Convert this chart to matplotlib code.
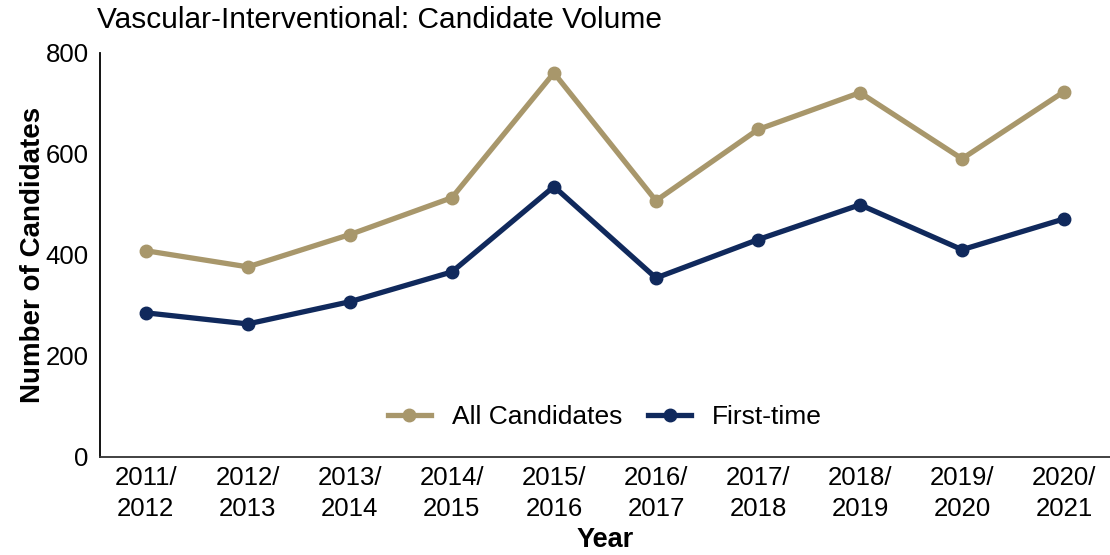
import matplotlib
matplotlib.use("Agg")
import matplotlib.pyplot as plt

plt.rcParams['font.family'] = ['Liberation Sans', 'DejaVu Sans']

years = ["2011/\n2012", "2012/\n2013", "2013/\n2014", "2014/\n2015", "2015/\n2016",
         "2016/\n2017", "2017/\n2018", "2018/\n2019", "2019/\n2020", "2020/\n2021"]
all_candidates = [408, 376, 440, 513, 760, 507, 648, 721, 590, 723]
first_time = [285, 263, 307, 366, 535, 354, 430, 499, 410, 471]

fig = plt.figure(figsize=(11.1, 5.55), dpi=100)
ax = fig.add_axes([0.090, 0.177, 0.910, 0.728])
x = list(range(len(years)))
ax.plot(x, all_candidates, color='#A8976B', lw=3.8, marker='o', ms=9, label='All Candidates')
ax.plot(x, first_time, color='#10295C', lw=3.8, marker='o', ms=9, label='First-time')

ax.set_xlim(-0.45, 9.45)
ax.set_ylim(0, 800)
ax.set_yticks([0, 200, 400, 600, 800])
ax.set_xticks(x)
ax.set_xticklabels(years, linespacing=1.35)
ax.tick_params(axis='both', length=0, labelsize=18.5)
ax.tick_params(axis='x', pad=7)
ax.tick_params(axis='y', pad=8)
for s in ['top', 'right']:
    ax.spines[s].set_visible(False)
ax.spines['left'].set_linewidth(1.3)
ax.spines['bottom'].set_linewidth(1.3)
ax.spines['bottom'].set_color('#333333')

ax.set_xlabel('Year', fontsize=19.5, fontweight='bold', labelpad=4)
ax.set_ylabel('Number of Candidates', fontsize=20, fontweight='bold', labelpad=0)
fig.text(0.087, 0.938, 'Vascular-Interventional: Candidate Volume', fontsize=21.5, ha='left', va='bottom')

ax.legend(loc='lower center', bbox_to_anchor=(0.5, 0.01), ncol=2, frameon=False,
          fontsize=19, handlelength=1.6, columnspacing=1.0, handletextpad=0.8)

fig.savefig('out.png', dpi=100)
